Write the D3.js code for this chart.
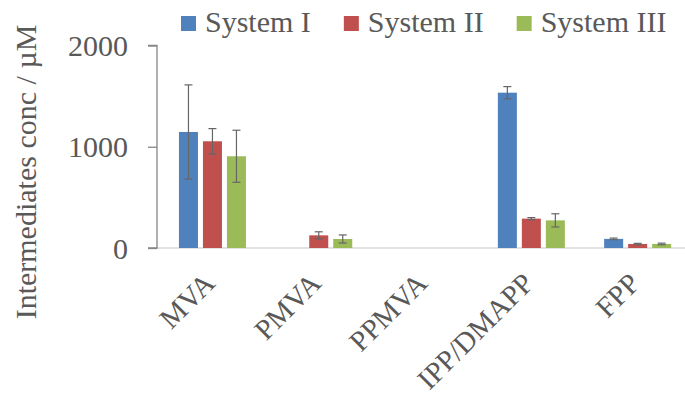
<!DOCTYPE html>
<html><head><meta charset="utf-8">
<script src="https://cdn.jsdelivr.net/npm/d3@7"></script>
<style>body{margin:0;background:#fff}svg{display:block}svg text{font-family:"Liberation Serif","Times New Roman","DejaVu Serif",serif !important}</style>
</head><body>
<svg id="c" width="685" height="398"></svg>
<script>
const categories = ["MVA", "PMVA", "PPMVA", "IPP/DMAPP", "FPP"];
const seriesNames = ["System I", "System II", "System III"];
const sys1 = [1146, 0, 0, 1534, 90];
const sys1Err = [465, 0, 0, 60, 8];
const sys2 = [1054, 125, 0, 290, 40];
const sys2Err = [125, 35, 0, 10, 6];
const sys3 = [906, 89, 0, 273, 40];
const sys3Err = [257, 40, 0, 65, 8];
const yTicks = [0, 1000, 2000];
const colors = ["#4F81BD", "#C0504D", "#9BBB59"];

const values = [sys1, sys2, sys3];
const errs = [sys1Err, sys2Err, sys3Err];
const FONT = "'Liberation Serif', 'Times New Roman', serif";

const svg = d3.select("#c");
const x0 = d3.scaleBand().domain(categories).range([159.3, 690.8]).padding(0);
const groupW = 67;
const x1 = d3.scaleBand().domain(seriesNames).range([0, groupW]).paddingInner(0.208).paddingOuter(0);
const y = d3.scaleLinear().domain([0, 2000]).range([248, 45.5]);

// baseline
svg.append("line").attr("x1", 157).attr("x2", 685).attr("y1", y(0)).attr("y2", y(0))
  .attr("stroke", "#d9d9d9").attr("stroke-width", 1.5);

// bars
seriesNames.forEach((s, si) => {
  const g = svg.append("g");
  categories.forEach((c, ci) => {
    const v = values[si][ci];
    if (v <= 0) return;
    const bx = x0(c) + x0.bandwidth() / 2 - groupW / 2 + x1(s);
    g.append("rect").attr("x", bx).attr("y", y(v)).attr("width", x1.bandwidth())
      .attr("height", y(0) - y(v)).attr("fill", colors[si]);
  });
});

// error bars
seriesNames.forEach((s, si) => {
  categories.forEach((c, ci) => {
    const v = values[si][ci], e = errs[si][ci];
    if (v <= 0 || e <= 0) return;
    const cx = x0(c) + x0.bandwidth() / 2 - groupW / 2 + x1(s) + x1.bandwidth() / 2;
    const g = svg.append("g").attr("stroke", "#666").attr("stroke-width", 1.2);
    g.append("line").attr("x1", cx).attr("x2", cx).attr("y1", y(v + e)).attr("y2", y(Math.max(0, v - e)));
    g.append("line").attr("x1", cx - 4).attr("x2", cx + 4).attr("y1", y(v + e)).attr("y2", y(v + e));
    g.append("line").attr("x1", cx - 4).attr("x2", cx + 4).attr("y1", y(Math.max(0, v - e))).attr("y2", y(Math.max(0, v - e)));
  });
});

// y axis
const yAxis = d3.axisLeft(y).tickValues(yTicks).tickSize(9).tickPadding(20).tickFormat(d3.format("d"));
const ga = svg.append("g").attr("transform", "translate(157,0)").call(yAxis)
  .attr("font-family", FONT);
ga.select(".domain").attr("stroke", "#868686").attr("stroke-width", 1.3).attr("d", `M-9,${y(2000)}H0V${y(0)}H-9`);
ga.selectAll(".tick line").attr("stroke", "#868686").attr("stroke-width", 1.3);
ga.selectAll(".tick text").attr("fill", "#595959").attr("font-size", 30)
  .attr("font-family", FONT).attr("dy", "0.34em");

// y title
svg.append("text").attr("transform", `translate(36,172) rotate(-90)`)
  .attr("text-anchor", "middle").attr("font-size", 30).attr("fill", "#595959").attr("font-family", FONT)
  .text("Intermediates conc / µM");

// category labels
categories.forEach(c => {
  const cx = x0(c) + x0.bandwidth() / 2;
  svg.append("text").attr("transform", `translate(${cx + 4},${285}) rotate(-45)`)
    .attr("text-anchor", "end").attr("font-size", 29).attr("fill", "#595959").attr("font-family", FONT).text(c);
});

// legend
let lx = 181;
seriesNames.forEach((s, si) => {
  svg.append("rect").attr("x", lx).attr("y", 16).attr("width", 15).attr("height", 15).attr("fill", colors[si]);
  const t = svg.append("text").attr("x", lx + 24).attr("y", 32).attr("font-size", 30)
    .attr("fill", "#595959").attr("font-family", FONT).text(s);
  lx = lx + 24 + t.node().getComputedTextLength() + 33;
});
</script>
</body></html>
